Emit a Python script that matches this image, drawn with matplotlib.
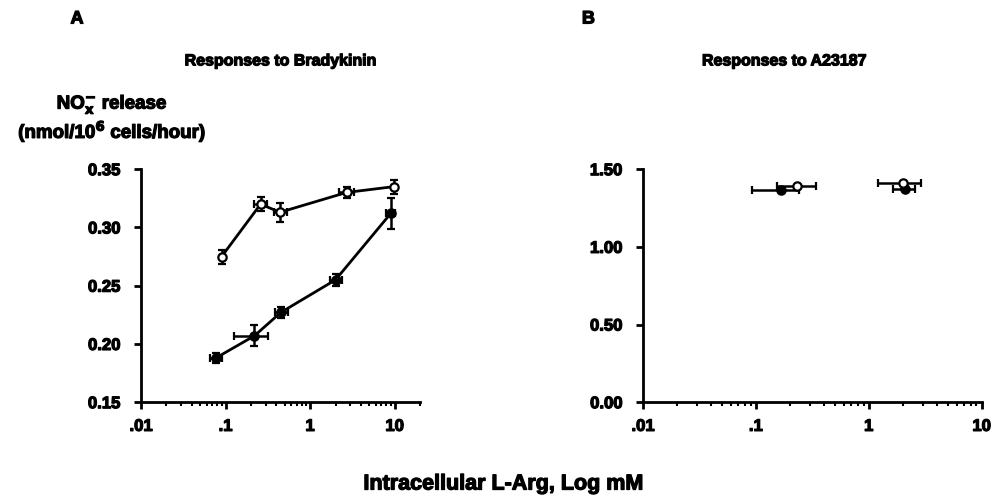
import matplotlib.pyplot as plt
import matplotlib.patheffects as pe
from matplotlib.ticker import FixedLocator, LogLocator, NullFormatter

plt.rcParams.update({'font.family': ['Liberation Sans', 'DejaVu Sans'], 'font.weight': 'bold',
                     'mathtext.default': 'bf'})

# Panel A: responses to bradykinin
a_open_x = [0.09, 0.26, 0.44, 2.7, 9.8]
a_open_xlo = [0.0, 0.04, 0.07, 0.5, 0.0]
a_open_xhi = [0.0, 0.05, 0.1, 0.6, 0.0]
a_open_y = [0.275, 0.320, 0.313, 0.330, 0.335]
a_open_yerr = [0.006, 0.006, 0.008, 0.005, 0.006]

a_fill_x = [0.077, 0.22, 0.45, 2.0, 9.0]
a_fill_xlo = [0.012, 0.095, 0.07, 0.3, 1.0]
a_fill_xhi = [0.015, 0.10, 0.1, 0.4, 1.0]
a_fill_y = [0.188, 0.207, 0.227, 0.255, 0.312]
a_fill_yerr = [0.004, 0.009, 0.005, 0.005, 0.013]

# Panel B: responses to A23187
b_open_x = [0.23, 2.0]
b_open_xlo = [0.075, 0.8]
b_open_xhi = [0.11, 0.9]
b_open_y = [1.39, 1.41]

b_fill_x = [0.166, 2.1]
b_fill_xlo = [0.074, 0.45]
b_fill_xhi = [0.074, 0.45]
b_fill_y = [1.365, 1.37]

x_ticks = [0.01, 0.1, 1, 10]
x_labels = ['.01', '.1', '1', '10']

heavy = [pe.withStroke(linewidth=0.9, foreground='black')]

fig = plt.figure(figsize=(9.93, 4.99), dpi=100)
axA = fig.add_axes([0.142, 0.194, 0.281, 0.467])
axB = fig.add_axes([0.6475, 0.194, 0.341, 0.467])


def style(ax):
    ax.set_xscale('log')
    for s in ['top', 'right']:
        ax.spines[s].set_visible(False)
    for s in ['left', 'bottom']:
        ax.spines[s].set_linewidth(2)
    ax.xaxis.set_major_locator(FixedLocator(x_ticks))
    ax.set_xticklabels(x_labels)
    ax.xaxis.set_minor_locator(LogLocator(base=10, subs=range(2, 10), numticks=20))
    ax.xaxis.set_minor_formatter(NullFormatter())
    ax.tick_params(axis='both', which='major', width=2, length=5, labelsize=12)
    ax.tick_params(axis='y', which='major', pad=10)
    ax.tick_params(axis='x', which='major', pad=7)
    ax.tick_params(axis='x', which='minor', width=1.5, length=3)
    for lab in ax.get_xticklabels() + ax.get_yticklabels():
        lab.set_fontweight('bold')
        lab.set_path_effects(heavy)


ebkw = dict(ecolor='black', elinewidth=1.8, capsize=3, capthick=1.8, markersize=6, markeredgewidth=1.6)

axA.errorbar(a_open_x, a_open_y, yerr=a_open_yerr, xerr=[a_open_xlo, a_open_xhi], fmt='-o',
             color='black', mfc='white', mec='black', lw=2, zorder=3, **ebkw)
axA.errorbar(a_fill_x, a_fill_y, yerr=a_fill_yerr, xerr=[a_fill_xlo, a_fill_xhi], fmt='-o',
             color='black', mfc='black', mec='black', lw=2, zorder=3, **ebkw)
axA.set_yticks([0.15, 0.20, 0.25, 0.30, 0.35])
axA.set_yticklabels(['0.15', '0.20', '0.25', '0.30', '0.35'])
style(axA)
axA.set_xlim(0.01, 20)
axA.set_ylim(0.15, 0.35)

axB.errorbar(b_fill_x, b_fill_y, xerr=[b_fill_xlo, b_fill_xhi], fmt='o',
             color='black', mfc='black', mec='black', zorder=3, **ebkw)
axB.errorbar(b_open_x, b_open_y, xerr=[b_open_xlo, b_open_xhi], fmt='o',
             color='black', mfc='white', mec='black', zorder=4, **ebkw)
axB.set_yticks([0, 0.5, 1.0, 1.5])
axB.set_yticklabels(['0.00', '0.50', '1.00', '1.50'])
style(axB)
axB.set_xlim(0.01, 10)
axB.set_ylim(0, 1.5)

texts = [
    fig.text(0.071, 0.962, 'A', fontsize=13, ha='left', va='center'),
    fig.text(0.586, 0.962, 'B', fontsize=13, ha='left', va='center'),
    fig.text(0.283, 0.878, 'Responses to Bradykinin', fontsize=11.5, ha='center', va='center'),
    fig.text(0.79, 0.878, 'Responses to A23187', fontsize=11.5, ha='center', va='center'),
    fig.text(0.113, 0.79, r'NO$^{-}_{x}$ release', fontsize=13.5, ha='center', va='center'),
    fig.text(0.113, 0.737, r'(nmol/10$^{6}$ cells/hour)', fontsize=13.5, ha='center', va='center'),
    fig.text(0.507, 0.03, 'Intracellular L-Arg, Log mM', fontsize=15.5, ha='center', va='center'),
]
for t in texts:
    t.set_fontweight('bold')
    t.set_path_effects(heavy)

fig.savefig('out.png', dpi=100)
